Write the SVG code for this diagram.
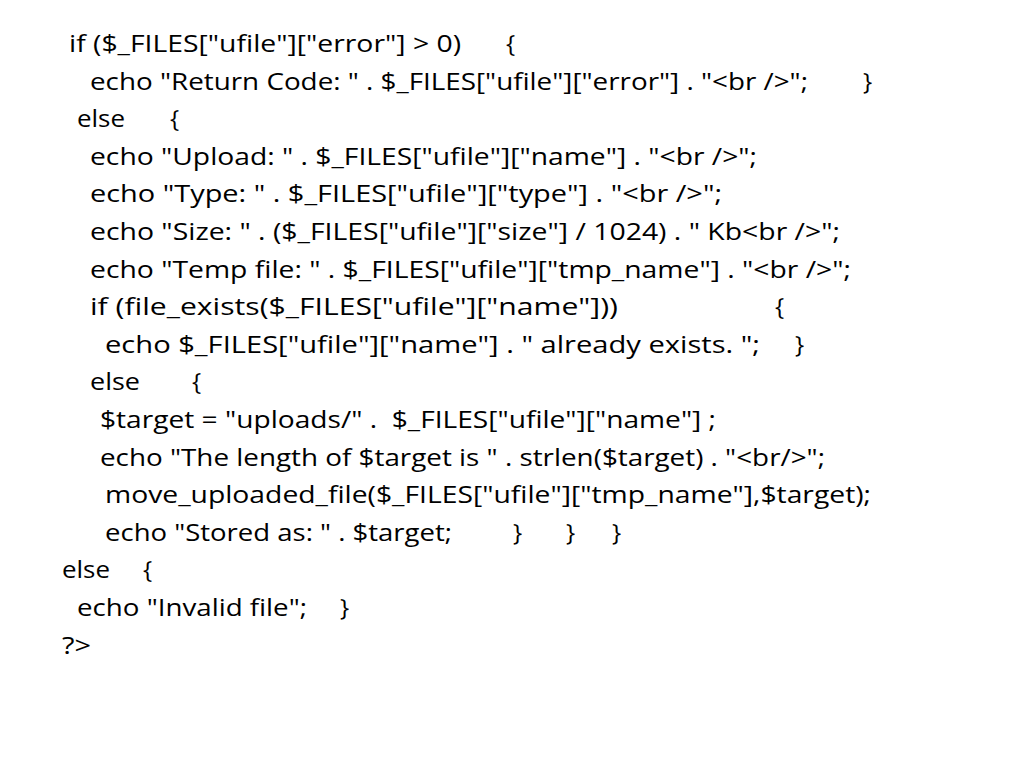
<svg xmlns="http://www.w3.org/2000/svg" width="1024" height="768" viewBox="0 0 1024 768">
<style>
text{font-family:"Open Sans","Liberation Sans",sans-serif;font-size:24.5px;fill:#000;white-space:pre}
</style>
<rect width="1024" height="768" fill="#fff"/>
<g id="code">
<text x="69" y="52" textLength="392" lengthAdjust="spacingAndGlyphs">if ($_FILES["ufile"]["error"] &gt; 0)</text>
<text x="506" y="52">{</text>
<text x="90" y="89.6" textLength="718" lengthAdjust="spacingAndGlyphs">echo "Return Code: " . $_FILES["ufile"]["error"] . "&lt;br /&gt;";</text>
<text x="863" y="89.6">}</text>
<text x="77" y="127.2" textLength="48" lengthAdjust="spacingAndGlyphs">else</text>
<text x="170" y="127.2">{</text>
<text x="90" y="164.8" textLength="667" lengthAdjust="spacingAndGlyphs">echo "Upload: " . $_FILES["ufile"]["name"] . "&lt;br /&gt;";</text>
<text x="90" y="202.4" textLength="632" lengthAdjust="spacingAndGlyphs">echo "Type: " . $_FILES["ufile"]["type"] . "&lt;br /&gt;";</text>
<text x="90" y="240" textLength="750" lengthAdjust="spacingAndGlyphs">echo "Size: " . ($_FILES["ufile"]["size"] / 1024) . " Kb&lt;br /&gt;";</text>
<text x="90" y="277.6" textLength="761" lengthAdjust="spacingAndGlyphs">echo "Temp file: " . $_FILES["ufile"]["tmp_name"] . "&lt;br /&gt;";</text>
<text x="90" y="315.2" textLength="528" lengthAdjust="spacingAndGlyphs">if (file_exists($_FILES["ufile"]["name"]))</text>
<text x="775" y="315.2">{</text>
<text x="105" y="352.8" textLength="655" lengthAdjust="spacingAndGlyphs">echo $_FILES["ufile"]["name"] . " already exists. ";</text>
<text x="795" y="352.8">}</text>
<text x="90" y="390.4" textLength="50" lengthAdjust="spacingAndGlyphs">else</text>
<text x="192" y="390.4">{</text>
<text x="100" y="428" textLength="616" lengthAdjust="spacingAndGlyphs">$target = "uploads/" .  $_FILES["ufile"]["name"] ;</text>
<text x="100" y="465.6" textLength="725" lengthAdjust="spacingAndGlyphs">echo "The length of $target is " . strlen($target) . "&lt;br/&gt;";</text>
<text x="105" y="503.2" textLength="766" lengthAdjust="spacingAndGlyphs">move_uploaded_file($_FILES["ufile"]["tmp_name"],$target);</text>
<text x="105" y="540.8" textLength="347" lengthAdjust="spacingAndGlyphs">echo "Stored as: " . $target;</text>
<text x="513" y="540.8">}</text>
<text x="566" y="540.8">}</text>
<text x="612" y="540.8">}</text>
<text x="62" y="578.4" textLength="48" lengthAdjust="spacingAndGlyphs">else</text>
<text x="143" y="578.4">{</text>
<text x="77" y="616" textLength="230" lengthAdjust="spacingAndGlyphs">echo "Invalid file";</text>
<text x="340" y="616">}</text>
<text x="62" y="653.6" textLength="29" lengthAdjust="spacingAndGlyphs">?&gt;</text>
</g>
</svg>
